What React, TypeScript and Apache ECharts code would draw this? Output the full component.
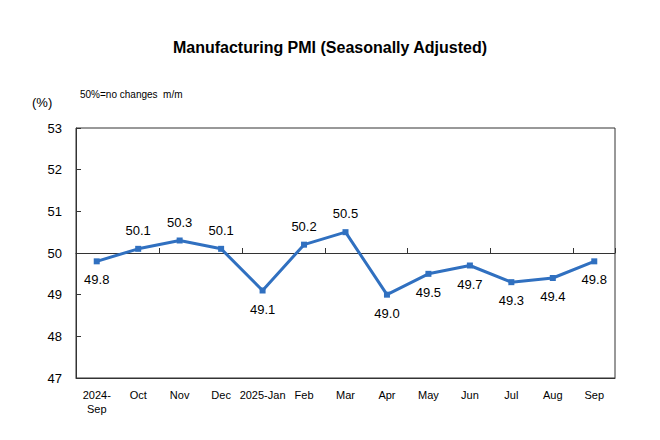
import React, { useEffect, useRef } from "react";
import * as echarts from "echarts";

const categories = ["2024-\nSep", "Oct", "Nov", "Dec", "2025-Jan", "Feb", "Mar", "Apr", "May", "Jun", "Jul", "Aug", "Sep"];
const pmiValues = [49.8, 50.1, 50.3, 50.1, 49.1, 50.2, 50.5, 49.0, 49.5, 49.7, 49.3, 49.4, 49.8];
const yTicks = { min: 47, max: 53, interval: 1 };
const referenceLevel = 50;

export default function App() {
  const ref = useRef<HTMLDivElement>(null);
  useEffect(() => {
    if (!ref.current) return;
    const chart = echarts.init(ref.current, undefined, { renderer: "svg" });
    const font = "Arial, 'Liberation Sans', sans-serif";
    chart.setOption({
      animation: false,
      backgroundColor: "#fff",
      title: {
        text: "Manufacturing PMI (Seasonally Adjusted)",
        left: "center",
        top: 34,
        textStyle: { fontFamily: font, fontSize: 16, fontWeight: "bold", color: "#000" },
      },
      graphic: [
        { type: "text", left: 32, top: 96, style: { text: "(%)", font: `13px ${font}`, fill: "#000" } },
        { type: "text", left: 80, top: 89, style: { text: "50%=no changes  m/m", font: `10px ${font}`, fill: "#000" } },
      ],
      grid: [
        { left: 76, right: 45, top: 128, bottom: 62, show: true, borderColor: "#333", borderWidth: 1, containLabel: false },
        { left: 76, right: 45, top: 128, height: 125, show: false, containLabel: false },
      ],
      xAxis: [
        {
          type: "category",
          gridIndex: 0,
          data: categories,
          boundaryGap: true,
          axisLine: { show: true, lineStyle: { color: "#333" } },
          axisTick: { show: false },
          axisLabel: { color: "#000", fontFamily: font, fontSize: 11, margin: 10, lineHeight: 14, interval: 0 },
        },
        {
          type: "category",
          gridIndex: 1,
          data: categories,
          boundaryGap: true,
          axisLine: { show: true, lineStyle: { color: "#333" } },
          axisTick: { show: true, inside: true, length: 5, lineStyle: { color: "#333" } },
          axisLabel: { show: false },
        },
      ],
      yAxis: [
        {
          type: "value",
          gridIndex: 0,
          min: yTicks.min,
          max: yTicks.max,
          interval: yTicks.interval,
          axisLine: { show: true, lineStyle: { color: "#333" } },
          axisTick: { show: true, inside: true, length: 5, lineStyle: { color: "#333" } },
          axisLabel: { color: "#000", fontFamily: font, fontSize: 13, margin: 14 },
          splitLine: { show: false },
        },
        {
          type: "value",
          gridIndex: 1,
          min: referenceLevel,
          max: yTicks.max,
          show: false,
        },
      ],
      series: [
        {
          type: "line",
          xAxisIndex: 0,
          yAxisIndex: 0,
          data: pmiValues.map((v) => ({
            value: v,
            label: { position: v >= referenceLevel ? "top" : "bottom" },
          })),
          symbol: "rect",
          symbolSize: 6,
          lineStyle: { color: "#3070C0", width: 3 },
          itemStyle: { color: "#3070C0" },
          label: {
            show: true,
            distance: 9,
            color: "#000",
            fontFamily: font,
            fontSize: 13,
            formatter: (p: any) => Number(p.value).toFixed(1),
          },
        },
      ],
    });
    return () => chart.dispose();
  }, []);
  return <div ref={ref} style={{ position: "absolute", left: 0, top: 0, width: 660, height: 440 }} />;
}
